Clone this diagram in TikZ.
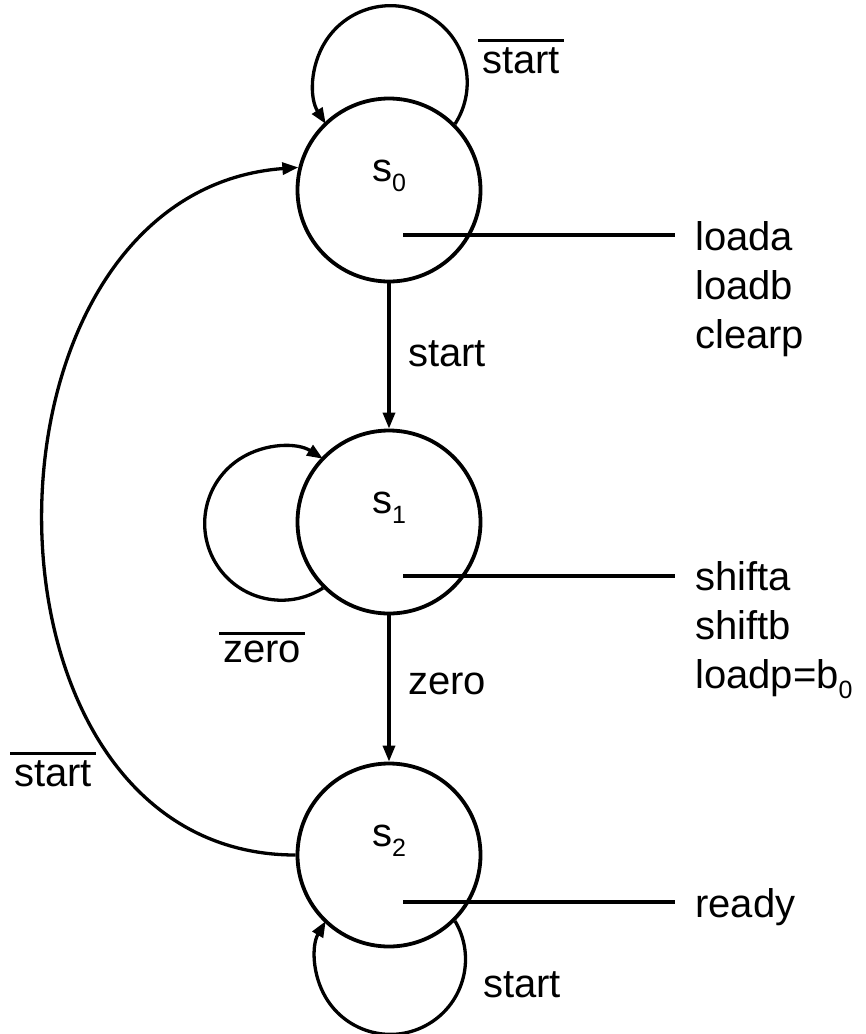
\documentclass[tikz,border=0pt]{standalone}
\usepackage{fontspec}
\setmainfont{Liberation Sans}
\usetikzlibrary{arrows.meta}
% lowered, smaller index digit
\newcommand\subidx[1]{\raisebox{-10pt}{\fontsize{25}{25}\selectfont #1}}
% negated signal: text with a bar above it
\newcommand\negsig[1]{\vbox{\hrule height 3.5pt\kern 5pt\hbox{\kern4pt #1\kern4pt}}}
\begin{document}
\begin{tikzpicture}[x=1pt,y=1pt,
  every node/.style={font=\fontsize{40}{49}\selectfont, inner sep=0pt},
  state/.style={draw, circle, line width=3.8pt, minimum size=183pt,
                text height=0pt, text depth=18pt},
  edge/.style={line width=3.3pt, -{Triangle[length=16pt,width=12pt]}},
  wire/.style={line width=3.3pt},
  sig/.style={anchor=base west}]
\useasboundingbox (0,0) rectangle (866,-1034);

% states
\node[state] (s0) at (389,-190) {s\subidx{0}};
\node[state] (s1) at (389,-522) {s\subidx{1}};
\node[state] (s2) at (389,-855) {s\subidx{2}};

% transitions
\draw[edge] (s0) -- (s1);
\draw[edge] (s1) -- (s2);
\draw[edge] (s0.45) arc[start angle=-32.7, end angle=212.7, radius=76.8];
\draw[edge] (s1.225) arc[start angle=-57.3, end angle=-302.7, radius=76.8];
\draw[edge] (s2.-45) arc[start angle=30.6, end angle=-210.6, radius=75.1];
\draw[edge] (s2.west) .. controls +(-338,0) and +(-338,-25) .. (s0.166);

% transition labels
\node[sig] (c00) at (478,-73) {\negsig{start}};
\node[sig] (c01) at (408,-366) {start};
\node[sig] (c11) at (219,-662) {\negsig{zero}};
\node[sig] (c12) at (408,-694) {zero};
\node[sig] (c20) at (10,-786) {\negsig{start}};
\node[sig] (c22) at (483,-997) {start};

% outputs of each state
\coordinate (w0a) at (403,-235);
\coordinate (w0b) at (675,-235);
\draw[wire] (w0a) -- (w0b);
\node[sig] (o0a) at (695,-250) {loada};
\node[sig] (o0b) at (695,-299) {loadb};
\node[sig] (o0c) at (695,-348) {clearp};

\coordinate (w1a) at (403,-576);
\coordinate (w1b) at (675,-576);
\draw[wire] (w1a) -- (w1b);
\node[sig] (o1a) at (695,-590) {shifta};
\node[sig] (o1b) at (695,-639) {shiftb};
\node[sig] (o1c) at (695,-688) {loadp=b\subidx{0}};

\coordinate (w2a) at (403,-902);
\coordinate (w2b) at (675,-902);
\draw[wire] (w2a) -- (w2b);
\node[sig] (o2a) at (695,-917) {ready};
\end{tikzpicture}
\end{document}
